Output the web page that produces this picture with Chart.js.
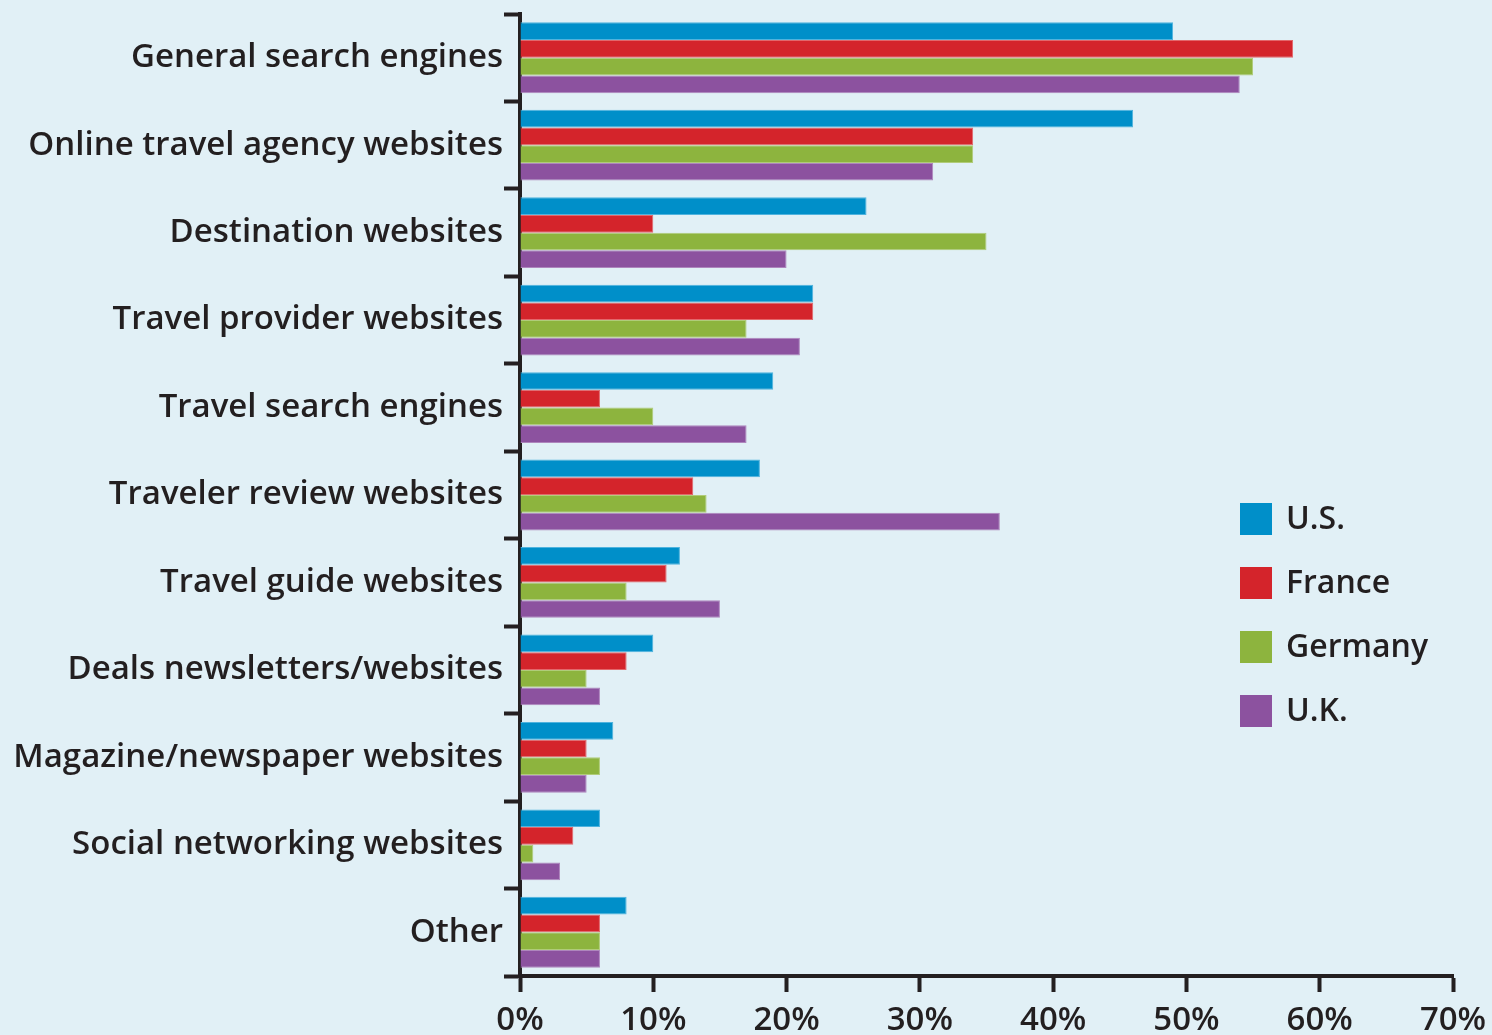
<!DOCTYPE html>
<html>
<head>
<meta charset="utf-8">
<script src="https://cdn.jsdelivr.net/npm/chart.js"></script>
<style>
  html, body { margin: 0; padding: 0; background: #e1f0f6; }
  #wrap { width: 1492px; height: 1035px; position: relative; }
</style>
</head>
<body>
<div id="wrap"><canvas id="chart"></canvas></div>
<script>
const categories = [
  'General search engines',
  'Online travel agency websites',
  'Destination websites',
  'Travel provider websites',
  'Travel search engines',
  'Traveler review websites',
  'Travel guide websites',
  'Deals newsletters/websites',
  'Magazine/newspaper websites',
  'Social networking websites',
  'Other',
];
const usValues = [49, 46, 26, 22, 19, 18, 12, 10, 7, 6, 8];
const franceValues = [58, 34, 10, 22, 6, 13, 11, 8, 5, 4, 6];
const germanyValues = [55, 34, 35, 17, 10, 14, 8, 5, 6, 1, 6];
const ukValues = [54, 31, 20, 21, 17, 36, 15, 6, 5, 3, 6];
const xTicks = [0, 10, 20, 30, 40, 50, 60, 70];

const ink = '#231f20';
const font = '"Open Sans", "DejaVu Sans", sans-serif';

// legend drawn inside the plot, right side
const insideLegend = {
  id: 'insideLegend',
  afterDraw(chart) {
    const { ctx, chartArea } = chart;
    const x0 = chartArea.left + 720;
    let y = 503;
    ctx.save();
    ctx.font = `600 32px ${font}`;
    ctx.textBaseline = 'middle';
    chart.data.datasets.forEach((ds) => {
      ctx.fillStyle = ds.backgroundColor;
      ctx.fillRect(x0, y, 32, 32);
      ctx.fillStyle = ink;
      ctx.fillText(ds.label, x0 + 46, y + 17);
      y += 64;
    });
    ctx.restore();
  },
};

const mk = (label, data, color, edge) => ({
  label,
  data,
  backgroundColor: color,
  borderColor: edge,
  borderWidth: 1,
  categoryPercentage: 0.81,
  barPercentage: 1.0,
});

new Chart(document.getElementById('chart').getContext('2d'), {
  type: 'bar',
  data: {
    labels: categories,
    datasets: [
      mk('U.S.', usValues, '#008fc9', '#4fb3de'),
      mk('France', franceValues, '#d4242b', '#e3676b'),
      mk('Germany', germanyValues, '#8db43e', '#b0cc79'),
      mk('U.K.', ukValues, '#8c529f', '#ae86bd'),
    ],
  },
  options: {
    indexAxis: 'y',
    responsive: true,
    maintainAspectRatio: false,
    animation: false,
    layout: { padding: { top: 14, right: 39, left: 0, bottom: 0 } },
    plugins: {
      legend: { display: false },
      tooltip: { enabled: false },
    },
    scales: {
      x: {
        min: 0,
        max: 70,
        afterBuildTicks(axis) {
          axis.ticks = xTicks.map((v) => ({ value: v }));
        },
        afterFit(axis) {
          axis.height = 59;
          axis.paddingLeft = 0;
          axis.paddingRight = 0;
        },
        border: { display: true, color: ink, width: 4 },
        grid: {
          drawOnChartArea: false,
          drawTicks: true,
          tickLength: 16,
          tickWidth: 4,
          color: ink,
        },
        ticks: {
          color: ink,
          padding: 9,
          maxRotation: 0,
          font: { family: font, size: 33, weight: '600' },
          callback: (v) => `${v}%`,
        },
      },
      y: {
        afterFit(axis) {
          axis.width = 520;
          axis.paddingTop = 0;
          axis.paddingBottom = 0;
        },
        border: { display: true, color: ink, width: 4 },
        grid: {
          offset: true,
          drawOnChartArea: false,
          drawTicks: true,
          tickLength: 16,
          tickWidth: 4,
          color: ink,
        },
        ticks: {
          color: ink,
          padding: 1,
          autoSkip: false,
          font: { family: font, size: 33, weight: '600' },
        },
      },
    },
  },
  plugins: [insideLegend],
});
</script>
</body>
</html>
